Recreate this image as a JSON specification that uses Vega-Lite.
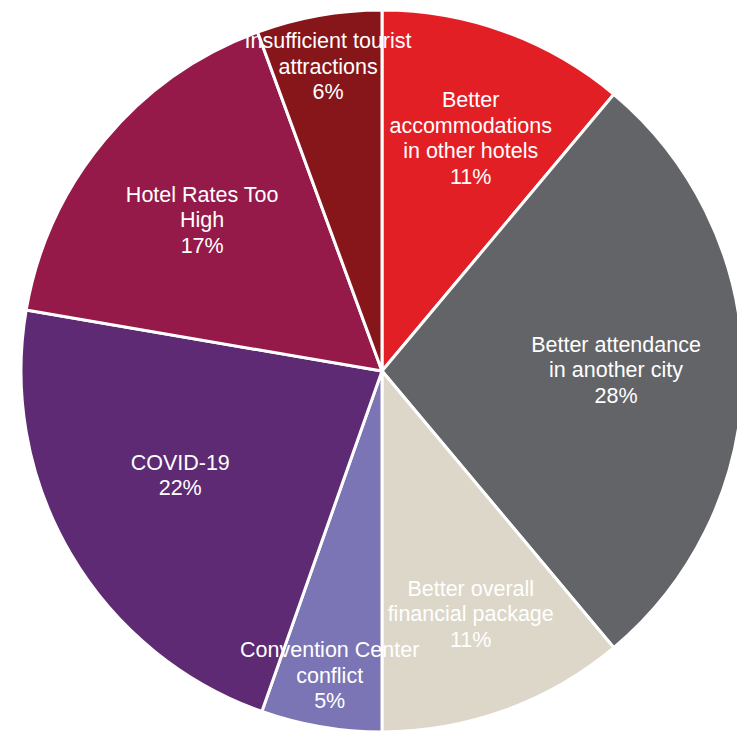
{
  "$schema": "https://vega.github.io/schema/vega-lite/v6.json",
  "width": 737,
  "height": 733,
  "autosize": {"type": "fit", "contains": "padding"},
  "padding": {"left": 27, "top": 9, "right": 0, "bottom": 0},
  "background": "white",
  "view": {"stroke": null},
  "data": {
    "values": [
      {"idx": 1, "reason": "Better accommodations in other hotels", "value": 11.1, "label": ["Better", "accommodations", "in other hotels", "11%"]},
      {"idx": 2, "reason": "Better attendance in another city", "value": 27.8, "label": ["Better attendance", "in another city", "28%"]},
      {"idx": 3, "reason": "Better overall financial package", "value": 11.1, "label": ["Better overall", "financial package", "11%"]},
      {"idx": 4, "reason": "Convention Center conflict", "value": 5.4, "label": ["Convention Center", "conflict", "5%"]},
      {"idx": 5, "reason": "COVID-19", "value": 22.3, "label": ["COVID-19", "22%"]},
      {"idx": 6, "reason": "Hotel Rates Too High", "value": 16.7, "label": ["Hotel Rates Too", "High", "17%"]},
      {"idx": 7, "reason": "Insufficient tourist attractions", "value": 5.6, "label": ["Insufficient tourist", "attractions", "6%"]}
    ]
  },
  "layer": [
    {
      "mark": {"type": "arc", "outerRadius": 361, "stroke": "white", "strokeWidth": 3},
      "encoding": {
        "theta": {"field": "value", "type": "quantitative", "stack": true},
        "order": {"field": "idx", "type": "quantitative"},
        "color": {
          "field": "reason",
          "type": "nominal",
          "scale": {
            "domain": ["Better accommodations in other hotels", "Better attendance in another city", "Better overall financial package", "Convention Center conflict", "COVID-19", "Hotel Rates Too High", "Insufficient tourist attractions"],
            "range": ["#E31F26", "#636467", "#DCD7C8", "#7B75B5", "#5D2A73", "#951A4A", "#87161A"]
          },
          "legend": null
        }
      }
    },
    {
      "mark": {"type": "text", "font": "Liberation Sans", "fontSize": 21.5, "lineHeight": 25.5, "dy": -25.5, "color": "white", "align": "center", "baseline": "middle"},
      "encoding": {
        "theta": {"field": "value", "type": "quantitative", "stack": true},
        "order": {"field": "idx", "type": "quantitative"},
        "detail": {"field": "reason", "type": "nominal"},
        "radius": {"field": "value", "type": "quantitative", "scale": {"type": "linear", "domain": [5.4, 14], "range": [310, 234], "clamp": true, "zero": false}},
        "text": {"field": "label"}
      }
    }
  ]
}
